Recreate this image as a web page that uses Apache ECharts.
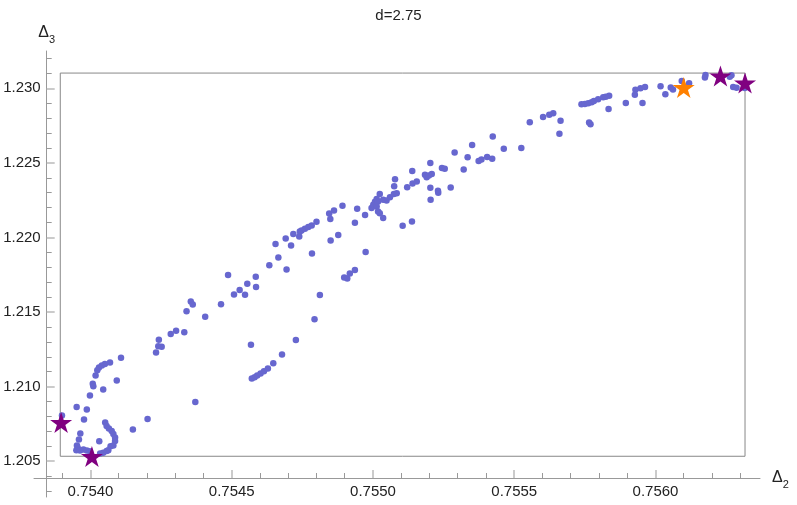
<!DOCTYPE html>
<html>
<head>
<meta charset="utf-8">
<script src="https://cdn.jsdelivr.net/npm/echarts@6/dist/echarts.min.js"></script>
<style>html,body{margin:0;padding:0;background:#fff}#c{width:797px;height:505px}</style>
</head>
<body>
<div id="c"></div>
<script>
var titleText = 'd=2.75';
var xTickValues = [0.7540, 0.7545, 0.7550, 0.7555, 0.7560];
var yTickValues = [1.205, 1.210, 1.215, 1.220, 1.225, 1.230];
var xRange = [0.7538, 0.75637];
var yRange = [1.2026, 1.2325];
var frameBox = {d2min: 0.753893, d2max: 0.756317, d3min: 1.20533, d3max: 1.23102};

var d2 = [0.753899,0.753951,0.753987,0.753977,0.753998,0.754008,0.754010,0.754018,0.754024,0.754030,
0.754040,0.754051,0.754069,0.754108,0.754045,0.754093,0.754052,0.754057,0.754065,0.754075,
0.754081,0.754087,0.754087,0.754081,0.754071,0.754063,0.754057,0.754045,0.754034,0.754031,
0.753964,0.753959,0.753952,0.753955,0.753950,0.753963,0.753975,0.753987,0.753998,0.754150,
0.754202,0.754371,0.754232,0.754240,0.754252,0.754242,0.754284,0.754303,0.754332,0.754340,
0.754355,0.754362,0.754406,0.754462,0.754487,0.754508,0.754528,0.754547,0.754555,0.754585,
0.754586,0.754568,0.754571,0.754581,0.754590,0.754602,0.754614,0.754628,0.754647,0.754678,
0.754727,0.754793,0.754812,0.754898,0.754909,0.754918,0.754936,0.754974,0.754784,0.754633,
0.754665,0.754694,0.754655,0.754691,0.754710,0.754718,0.754739,0.754741,0.754747,0.754759,
0.754771,0.754783,0.754800,0.754850,0.754877,0.754845,0.754862,0.754849,0.754892,0.754944,
0.754972,0.754936,0.754995,0.755001,0.755007,0.755013,0.755018,0.755013,0.755018,0.755024,
0.755036,0.755024,0.755036,0.755048,0.755060,0.755074,0.755084,0.755075,0.755078,0.755105,
0.755138,0.755121,0.755140,0.755155,0.755139,0.755184,0.755190,0.755198,0.755208,0.755203,
0.755203,0.755204,0.755230,0.755231,0.755244,0.755254,0.755275,0.755289,0.755321,0.755335,
0.755351,0.755374,0.755384,0.755404,0.755422,0.755424,0.755463,0.755525,0.755555,0.755602,
0.755624,0.755638,0.755664,0.755660,0.755738,0.755750,0.755762,0.755774,0.755782,0.755797,
0.755815,0.755824,0.755836,0.755834,0.755765,0.755770,0.755895,0.755929,0.755947,0.755963,
0.755927,0.755954,0.756018,0.756035,0.756054,0.756062,0.756093,0.756119,0.756177,0.756175,
0.756269,0.756263,0.756275,0.756287,0.756316];

var d3 = [1.20807,1.20864,1.20847,1.20780,1.20940,1.21019,1.21003,1.21074,1.21110,1.21128,
1.21141,1.21151,1.21161,1.21193,1.20981,1.21041,1.20760,1.20736,1.20720,1.20702,
1.20683,1.20659,1.20636,1.20606,1.20601,1.20574,1.20568,1.20557,1.20552,1.20633,
1.20686,1.20646,1.20606,1.20588,1.20574,1.20572,1.20579,1.20572,1.20566,1.20712,
1.20783,1.20897,1.21228,1.21270,1.21268,1.21315,1.21353,1.21374,1.21364,1.21505,
1.21570,1.21550,1.21469,1.21552,1.21748,1.21618,1.21648,1.21616,1.21690,1.21737,
1.21668,1.21280,1.21054,1.21063,1.21074,1.21088,1.21103,1.21121,1.21157,1.21215,
1.21313,1.21451,1.21614,1.21732,1.21724,1.21759,1.21782,1.21902,1.21893,1.21813,
1.21866,1.21786,1.21956,1.21993,1.21946,1.22023,1.22007,1.22040,1.22047,1.22058,
1.22070,1.22080,1.22105,1.21980,1.22016,1.22161,1.22181,1.22123,1.22212,1.22192,
1.22150,1.22098,1.22197,1.22219,1.22239,1.22257,1.22241,1.22207,1.22174,1.22163,
1.22130,1.22291,1.22252,1.22248,1.22270,1.22291,1.22296,1.22343,1.22390,1.22078,
1.22107,1.22337,1.22361,1.22375,1.22445,1.22420,1.22404,1.22415,1.22426,1.22499,
1.22334,1.22252,1.22313,1.22299,1.22465,1.22460,1.22335,1.22569,1.22455,1.22538,
1.22620,1.22513,1.22522,1.22540,1.22527,1.22676,1.22594,1.22600,1.22772,1.22808,
1.22823,1.22833,1.22783,1.22696,1.22893,1.22895,1.22900,1.22906,1.22915,1.22926,
1.22940,1.22944,1.22950,1.22861,1.22770,1.22759,1.22902,1.22991,1.23000,1.23009,
1.22957,1.22902,1.23013,1.22960,1.23005,1.22992,1.23049,1.23033,1.23089,1.23072,
1.23087,1.23078,1.23009,1.23004,1.23002];

var purpleStarD2 = [0.753896, 0.754005, 0.756230, 0.756317];
var purpleStarD3 = [1.20760, 1.20532, 1.23082, 1.23035];
var orangeStarD2 = [0.756100];
var orangeStarD3 = [1.23005];

function zip(a, b) { return a.map(function (v, i) { return [v, b[i]]; }); }

var starPath = 'path://M50 0 L61.23 34.55 L97.55 34.55 L68.16 55.9 L79.39 90.45 L50 69.1 L20.61 90.45 L31.84 55.9 L2.45 34.55 L38.77 34.55 Z';
var font = "'Liberation Sans', Arial, sans-serif";

var frameData = [
  [frameBox.d2min, frameBox.d3min], [frameBox.d2max, frameBox.d3min],
  [frameBox.d2max, frameBox.d3max], [frameBox.d2min, frameBox.d3max],
  [frameBox.d2min, frameBox.d3min]
];

var chart = echarts.init(document.getElementById('c'), null, {renderer: 'canvas'});
chart.setOption({
  animation: false,
  backgroundColor: '#fff',
  title: {
    text: titleText, left: 'center', top: 3,
    textStyle: {fontFamily: font, fontSize: 15, fontWeight: 'normal', color: '#222'}
  },
  grid: {left: 34, right: 37, top: 51, bottom: 8, containLabel: false},
  xAxis: {
    type: 'value', min: xRange[0], max: xRange[1], position: 'bottom', offset: -19,
    name: '{a|Δ}{b|2}', nameLocation: 'end', nameGap: 12,
    nameTextStyle: {
      rich: {
        a: {fontFamily: font, fontSize: 16, color: '#222', lineHeight: 24, verticalAlign: 'middle'},
        b: {fontFamily: font, fontSize: 11, color: '#222', lineHeight: 24, verticalAlign: 'bottom'}
      }
    },
    axisLine: {onZero: false, lineStyle: {color: '#999', width: 1}},
    axisTick: {show: true, inside: true, length: 8, customValues: xTickValues, lineStyle: {color: '#bbb', width: 1.5}},
    minorTick: {show: true, splitNumber: 5, length: 5, lineStyle: {color: '#999', width: 1}},
    axisLabel: {
      customValues: xTickValues, margin: 6, fontFamily: font, fontSize: 15, color: '#222',
      formatter: function (v) { return v.toFixed(4); }
    },
    splitLine: {show: false}
  },
  yAxis: {
    type: 'value', min: yRange[0], max: yRange[1], position: 'left', offset: -12.7,
    name: '{a|Δ}{b|3}', nameLocation: 'end', nameGap: 6,
    nameTextStyle: {
      rich: {
        a: {fontFamily: font, fontSize: 16, color: '#222', lineHeight: 24, verticalAlign: 'middle'},
        b: {fontFamily: font, fontSize: 11, color: '#222', lineHeight: 24, verticalAlign: 'bottom'}
      }
    },
    axisLine: {onZero: false, lineStyle: {color: '#999', width: 1}},
    axisTick: {show: true, inside: true, length: 8, customValues: yTickValues, lineStyle: {color: '#bbb', width: 1.5}},
    minorTick: {show: true, splitNumber: 5, length: 5, lineStyle: {color: '#999', width: 1}},
    axisLabel: {
      customValues: yTickValues, margin: 6, fontFamily: font, fontSize: 15, color: '#222',
      formatter: function (v) { return v.toFixed(3); }
    },
    splitLine: {show: false}
  },
  series: [
    {
      type: 'line', data: frameData, symbol: 'none', silent: true, z: 1,
      lineStyle: {color: '#888', width: 1}
    },
    {
      type: 'scatter', data: zip(d2, d3), symbol: 'circle', symbolSize: 6.5, z: 2,
      itemStyle: {color: '#6767cf', opacity: 1}
    },
    {
      type: 'scatter', data: zip(orangeStarD2, orangeStarD3), symbol: starPath, symbolSize: [22, 21], z: 3,
      itemStyle: {color: '#ff8000', opacity: 1}
    },
    {
      type: 'scatter', data: zip(purpleStarD2, purpleStarD3), symbol: starPath, symbolSize: [22, 21], z: 4,
      itemStyle: {color: '#800080', opacity: 1}
    }
  ]
});
</script>
</body>
</html>
